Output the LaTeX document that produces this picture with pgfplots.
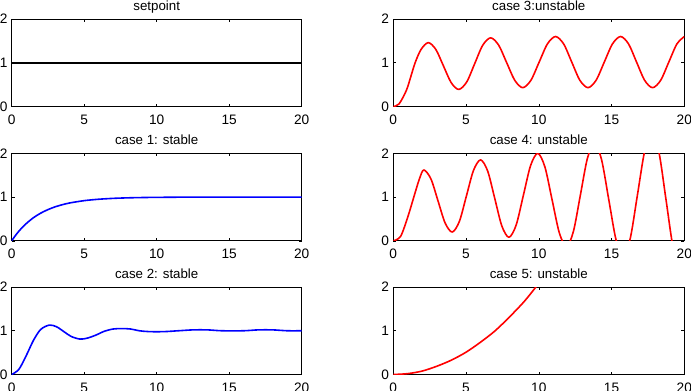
\documentclass[border=0pt]{standalone}
\usepackage{fontspec}
\setmainfont{Liberation Sans}
\usepackage{pgfplots}
\pgfplotsset{compat=1.18}
\pgfplotsset{
  mat/.style={
    scale only axis, width=290pt, height=87.5pt,
    xmin=0,xmax=20,ymin=0,ymax=2,
    xtick={0,5,10,15,20}, ytick={0,1,2},
    tick align=inside, major tick length=3pt,
    xtick pos=both, ytick pos=both, xticklabel pos=lower, yticklabel pos=left,
    axis line style={line width=0.8pt},
    every tick/.style={black, line width=0.6pt},
    ticklabel style={font=\fontsize{13.7}{13.7}\selectfont, inner sep=0pt},
    xticklabel style={anchor=base, yshift=-17.5pt},
    yticklabel style={anchor=east, xshift=-4pt},
    /pgf/number format/assume math mode=true,
    title style={font=\fontsize{13.3}{13.3}\selectfont, anchor=base, at={(0.5,1)}, yshift=2.5pt, inner sep=0pt},
    clip=true,
    every axis plot/.append style={line width=1.6pt, line join=round},
  },
}
\begin{document}
\begin{tikzpicture}
\useasboundingbox (0,0) rectangle (691pt,-391pt);
% setpoint
\begin{axis}[mat, anchor=north west, at={(11.7pt,-19pt)}, title={setpoint}]
\addplot[black] coordinates {(0,1) (20,1)};
\end{axis}
% case 3
\begin{axis}[mat, width=291pt, anchor=north west, at={(393.3pt,-19pt)}, title={case 3:unstable}]
\addplot[red, smooth] coordinates {
(0,0) (0.4,0.06) (0.9,0.37) (1.2,0.68) (1.5,1.0) (1.9,1.3) (2.4,1.46)
(2.925,1.303) (3.45,0.925) (3.975,0.547) (4.5,0.39)
(5.05,0.563) (5.595,0.98) (6.14,1.397) (6.69,1.57)
(7.24,1.403) (7.795,1.0) (8.35,0.597) (8.9,0.43)
(9.46,0.601) (10.025,1.015) (10.59,1.429) (11.15,1.6)
(11.71,1.429) (12.265,1.015) (12.82,0.601) (13.38,0.43)
(13.94,0.601) (14.5,1.015) (15.06,1.429) (15.62,1.6)
(16.17,1.429) (16.72,1.015) (17.27,0.601) (17.82,0.43)
(18.38,0.601) (18.935,1.015) (19.49,1.429) (20,1.598)};
\end{axis}
% case 1
\begin{axis}[mat, anchor=north west, at={(11.7pt,-153.3pt)}, title={case 1: stable}]
\addplot[blue, smooth] coordinates {
(0,0) (0.25,0.118) (0.5,0.221) (0.75,0.313) (1,0.393) (1.5,0.528) (2,0.632)
(2.5,0.713) (3,0.777) (3.5,0.826) (4,0.865) (5,0.918) (6,0.950) (7,0.970)
(8,0.982) (9,0.989) (10,0.993) (12,0.998) (14,0.999) (17,1.0) (20,1.0)};
\end{axis}
% case 4
\begin{axis}[mat, width=291pt, anchor=north west, at={(393.3pt,-153.3pt)}, title={case 4: unstable}]
\addplot[red, smooth] coordinates {
(0,0) (0.5,0.1) (1.0,0.55) (1.5,1.1) (1.8,1.42) (2.1,1.62)
(2.59,1.412) (3.075,0.91) (3.56,0.408) (4.05,0.2)
(4.54,0.442) (5.025,1.025) (5.51,1.608) (6.0,1.85)
(6.49,1.591) (6.975,0.965) (7.46,0.339) (7.95,0.08)
(8.445,0.361) (8.94,1.04) (9.435,1.719) (9.93,2.0)
(10.42,1.688) (10.915,0.935) (11.41,0.182) (11.9,-0.13)
(12.38,0.216) (12.86,1.05) (13.34,1.884) (13.82,2.23)
(14.315,1.852) (14.81,0.94) (15.305,0.028) (15.8,-0.35)
(16.29,0.063) (16.785,1.06) (17.28,2.057) (17.77,2.47)
(18.26,2.02) (18.745,0.935) (19.23,-0.15) (19.72,-0.6) (20,-0.44)};
\end{axis}
% case 2
\begin{axis}[mat, anchor=north west, at={(11.7pt,-287pt)}, title={case 2: stable}]
\addplot[blue, smooth] coordinates {
(0,0) (0.5,0.12) (1,0.43) (1.5,0.78) (2,1.03) (2.6,1.13) (3.1,1.09) (3.6,0.98)
(4.1,0.87) (4.7,0.81) (5.2,0.83) (5.8,0.9) (6.4,0.99) (7.0,1.04) (7.6,1.05)
(8.2,1.04) (8.8,1.0) (9.5,0.98) (10.5,0.98) (11.5,1.0) (12.5,1.02) (13.5,1.02)
(14.5,1.0) (16,1.0) (17,1.02) (18,1.02) (19,1.0) (20,1.0)};
\end{axis}
% case 5
\begin{axis}[mat, width=291pt, anchor=north west, at={(393.3pt,-287pt)}, title={case 5: unstable}]
\addplot[red, smooth] coordinates {
(0,0) (1,0.02) (2,0.08) (3,0.19) (4,0.33) (5,0.51) (6,0.74) (7,1.0)
(8,1.32) (9,1.67) (9.8,2.0) (10.5,2.3)};
\end{axis}
\end{tikzpicture}
\end{document}
